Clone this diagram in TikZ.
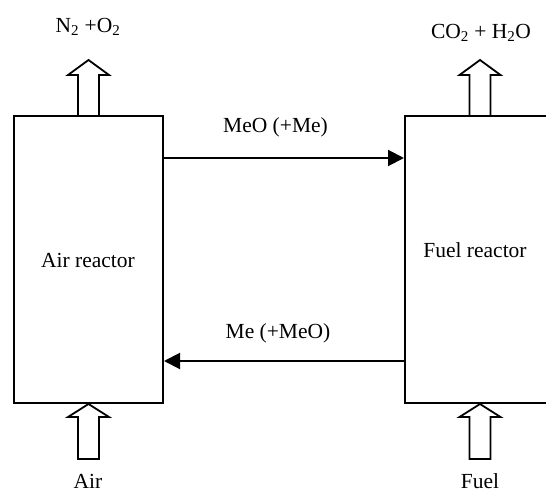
\documentclass[tikz,border=0pt]{standalone}
\usepackage{fontspec}
\setmainfont{Liberation Serif}
\usetikzlibrary{arrows.meta}
\begin{document}
\begin{tikzpicture}[x=1pt,y=-1pt,
  reactor/.style={draw, line width=2pt, minimum width=149pt, minimum height=287pt, inner sep=0pt},
  txt/.style={font=\fontsize{21.5}{25}\selectfont, inner sep=0pt},
  flow/.style={line width=2pt, -{Triangle[length=16pt,width=16pt]}},
  fatin/.pic={\draw[line width=1.8pt, line join=miter] (0,0) -- (-20.5,13) -- (-10.5,13) -- (-10.5,55) -- (10.5,55) -- (10.5,13) -- (20.5,13) -- cycle;},
  fatout/.pic={\draw[line width=1.8pt, line join=miter] (-10.5,0) -- (-10.5,-40) -- (-20.5,-40) -- (0,-55) -- (20.5,-40) -- (10.5,-40) -- (10.5,0);}
]
\useasboundingbox[fill=white] (0,0) rectangle (546,492);
\node[reactor] (air) at (88.5,259.5) {};
\node[reactor, minimum width=150pt] (fuel) at (480,259.5) {};
\node[txt] (airlbl) at (88,260) {Air reactor};
\node[txt] (fuellbl) at (475,250) {Fuel reactor};
% hollow arrows
\pic at (air.north) {fatout};
\pic at (fuel.north) {fatout};
\pic at (air.south) {fatin};
\pic at (fuel.south) {fatin};
\node[txt] (outA) at (88,27) {N\textsubscript{2} +O\textsubscript{2}};
\node[txt] (outF) at (481,33) {CO\textsubscript{2} + H\textsubscript{2}O};
\node[txt] (inA) at (88,481) {Air};
\node[txt] (inF) at (480,481) {Fuel};
% solid flows
\coordinate (a1) at ([yshift=101.5pt]air.east);
\coordinate (f1) at ([yshift=101.5pt]fuel.west);
\coordinate (a2) at ([yshift=-101.5pt]air.east);
\coordinate (f2) at ([yshift=-101.5pt]fuel.west);
\draw[flow] (a1) -- (f1);
\draw[flow] (f2) -- (a2);
\node[txt] (meo) at (275.5,127) {MeO (+Me)};
\node[txt] (me) at (278,333) {Me (+MeO)};
\end{tikzpicture}
\end{document}
